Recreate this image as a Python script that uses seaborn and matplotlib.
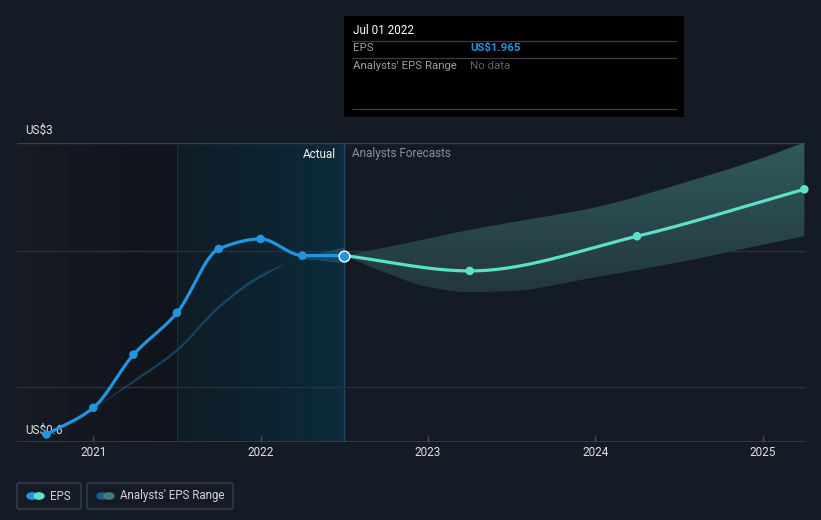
import numpy as np
import pandas as pd
import matplotlib
matplotlib.use("Agg")
import matplotlib.pyplot as plt
from matplotlib.patches import Rectangle, FancyBboxPatch
from matplotlib.colors import LinearSegmentedColormap
import seaborn as sns

# ---------------- data ----------------
eps_dates = [2020.72, 2021.0, 2021.24, 2021.5, 2021.75, 2022.0, 2022.25, 2022.5]
eps_values = [0.66, 0.874, 1.30, 1.635, 2.147, 2.227, 2.094, 2.094]

fc_dates = [2022.5, 2023.25, 2024.25, 2025.25]
fc_values = [2.094, 1.971, 2.249, 2.625]

past_range_dates = [2021.0, 2021.25, 2021.5, 2021.75, 2022.0, 2022.25, 2022.5]
past_range_low = [0.874, 1.09, 1.33, 1.675, 1.92, 2.065, 2.035]
past_range_high = [0.874, 1.11, 1.355, 1.70, 1.945, 2.08, 2.166]

fc_range_dates = [2022.5, 2022.75, 2023.0, 2023.25, 2023.5, 2024.0, 2024.5, 2025.0, 2025.25]
fc_range_low = [2.094, 1.955, 1.843, 1.80, 1.81, 1.92, 2.04, 2.18, 2.25]
fc_range_high = [2.094, 2.16, 2.23, 2.30, 2.36, 2.48, 2.665, 2.876, 3.0]

x_ticks = [2021, 2022, 2023, 2024, 2025]
x_tick_labels = ["2021", "2022", "2023", "2024", "2025"]
y_labels = ["US$3", "US$0.6"]
grid_values = [3.0, 2.13, 1.04]
today = 2022.5
year_ago = 2021.5

# ---------------- helpers ----------------
def pchip(x, y, xs):
    x = np.asarray(x, float); y = np.asarray(y, float)
    h = np.diff(x); d = np.diff(y) / h
    n = len(x); m = np.zeros(n)
    m[0] = d[0]; m[-1] = d[-1]
    for i in range(1, n - 1):
        if d[i - 1] * d[i] <= 0:
            m[i] = 0
        else:
            w1 = 2 * h[i] + h[i - 1]; w2 = h[i] + 2 * h[i - 1]
            m[i] = (w1 + w2) / (w1 / d[i - 1] + w2 / d[i])
    out = np.empty_like(xs, dtype=float)
    for j, xv in enumerate(xs):
        k = np.clip(np.searchsorted(x, xv) - 1, 0, n - 2)
        t = (xv - x[k]) / h[k]
        h00 = 2*t**3 - 3*t**2 + 1; h10 = t**3 - 2*t**2 + t
        h01 = -2*t**3 + 3*t**2; h11 = t**3 - t**2
        out[j] = h00*y[k] + h10*h[k]*m[k] + h01*y[k+1] + h11*h[k]*m[k+1]
    return out

def smooth(x, y, n=300):
    xs = np.linspace(x[0], x[-1], n)
    return xs, pchip(x, y, xs)

# ---------------- figure ----------------
BG = "#151b24"
sns.set_style("dark", {"axes.facecolor": BG, "figure.facecolor": BG})
plt.rcParams['font.family'] = ['Roboto', 'DejaVu Sans']

W, H = 821, 520
fig = plt.figure(figsize=(W / 100, H / 100), dpi=100)
fig.patch.set_facecolor(BG)
ax = fig.add_axes([17 / W, (520 - 442) / H, (805 - 17) / W, (442 - 142.5) / H])
ax.set_facecolor(BG)
XMIN, XMAX = 2020.544, 2025.254
YMIN, YMAX = 0.6, 3.0
ax.set_xlim(XMIN, XMAX)
ax.set_ylim(YMIN, YMAX)

# background regions
grad_l = np.linspace(0, 1, 256).reshape(1, -1)
cm_left = LinearSegmentedColormap.from_list("l", ["#161b24", "#10141b"])
ax.imshow(grad_l, extent=[XMIN, year_ago, YMIN, YMAX], aspect="auto", cmap=cm_left, zorder=0)
cm_mid = LinearSegmentedColormap.from_list("m", ["#0f1c26", "#0b2b3b"])
ax.imshow(grad_l, extent=[year_ago, today, YMIN, YMAX], aspect="auto", cmap=cm_mid, zorder=0)
ax.axvline(year_ago, color="#15303c", lw=0.8, zorder=1)
ax.axvline(today, color="#1b4d63", lw=1.0, zorder=1)

# grid lines
for i, g in enumerate(grid_values):
    ax.axhline(g, color="#3a404a" if i == 0 else "#2a3039", lw=1.0, zorder=1)

# forecast range band with vertical gradient
xs_h, yh = smooth(fc_range_dates, fc_range_high)
xs_l, yl = smooth(fc_range_dates, fc_range_low)
poly = ax.fill_between(xs_h, yl, yh, color="none", lw=0, zorder=2)
grad_v = np.linspace(1, 0, 256).reshape(-1, 1)
cm_band = LinearSegmentedColormap.from_list("b", ["#22363d", "#305a5c"])
im = ax.imshow(grad_v, extent=[today, XMAX, 1.75, 3.0], aspect="auto", cmap=cm_band, zorder=2)
im.set_clip_path(poly.get_paths()[0], transform=ax.transData)

# past range band
xs_ph, pyh = smooth(past_range_dates, past_range_high)
_, pyl = smooth(past_range_dates, past_range_low)
ax.fill_between(xs_ph, pyl, pyh, color="#1f6a99", alpha=0.5, lw=0, zorder=3)

# EPS line
ex, ey = smooth(eps_dates, eps_values, 400)
sns.lineplot(x=ex, y=ey, ax=ax, color="#2394df", lw=2.3, zorder=5, legend=False)
sns.scatterplot(x=eps_dates[:-1], y=eps_values[:-1], ax=ax, color="#2394df", s=38,
                edgecolor="none", zorder=6, legend=False)

# forecast line
fx, fy = smooth(fc_dates, fc_values, 400)
sns.lineplot(x=fx, y=fy, ax=ax, color="#5ce0c8", lw=2.3, zorder=5, legend=False)
sns.scatterplot(x=fc_dates[1:], y=fc_values[1:], ax=ax, color="#5ce0c8", s=38,
                edgecolor="none", zorder=6, legend=False, clip_on=False)

# highlighted current point
ax.scatter([eps_dates[-1]], [eps_values[-1]], s=60, color="#2394df", edgecolor="white",
           linewidth=1.0, zorder=7)

# axes styling
for s in ax.spines.values():
    s.set_visible(False)
ax.axhline(YMIN, color="#3a404a", lw=1.2, zorder=4)
ax.set_xticks(x_ticks)
ax.set_xticklabels(x_tick_labels)
ax.tick_params(axis="x", colors="#4a515c", length=4, width=1, labelcolor="#e0e3e8",
               labelsize=8.5, pad=3, bottom=True, direction="in")
ax.set_yticks([])
ax.grid(False)

# y labels
ax.text(25 / W, (520 - 130) / H, y_labels[0], transform=fig.transFigure, color="#e0e3e8",
        fontsize=8.5, va="center", ha="left")
ax.text(25 / W, (520 - 430) / H, y_labels[1], transform=fig.transFigure, color="#e0e3e8",
        fontsize=8.5, va="center", ha="left", zorder=4)

# Actual / forecasts labels
ax.text(336 / W, (520 - 154) / H, "Actual", transform=fig.transFigure, color="#f0f2f5",
        fontsize=8.5, ha="right", va="center")
ax.text(352 / W, (520 - 154) / H, "Analysts Forecasts", transform=fig.transFigure,
        color="#8a9099", fontsize=8.5, ha="left", va="center")

# tooltip
ft = fig.transFigure
fig.patches.append(Rectangle((344 / W, (520 - 117) / H), 340 / W, 101 / H, transform=ft,
                             facecolor="#000000", edgecolor="none", zorder=10))
def hline(y, x0=352, x1=676, c="#3a3f46"):
    fig.lines.append(plt.Line2D([x0 / W, x1 / W], [(520 - y) / H] * 2, transform=ft,
                                color=c, lw=0.9, zorder=11))
fig.text(353 / W, (520 - 31) / H, "Jul 01 2022", color="#ffffff", fontsize=8.5,
         va="center", zorder=12)
hline(41)
fig.text(353 / W, (520 - 48) / H, "EPS", color="#9aa0a8", fontsize=8.2, va="center", zorder=12)
fig.text(470 / W, (520 - 48) / H, "US$1.965", color="#2394df", fontsize=8.2,
         fontweight="bold", va="center", zorder=12)
hline(58)
fig.text(353 / W, (520 - 66) / H, "Analysts' EPS Range", color="#9aa0a8", fontsize=8.2,
         va="center", zorder=12)
fig.text(470 / W, (520 - 66) / H, "No data", color="#5f646b", fontsize=8.2, va="center",
         zorder=12)
hline(109)

# legend
def legend_box(x0, x1, label, c1, c2):
    fig.patches.append(FancyBboxPatch((x0 / W, (520 - 509) / H), (x1 - x0) / W, 26 / H,
                                      boxstyle="round,pad=0,rounding_size=0.003",
                                      transform=ft, facecolor="none",
                                      edgecolor="#3a404a", lw=1.0))
    cy = (520 - 496) / H
    fig.patches.append(plt.Circle(((x0 + 15) / W, cy), 5 / W, transform=ft, color=c1,
                                  zorder=3))
    fig.patches.append(plt.Circle(((x0 + 22) / W, cy), 5 / W, transform=ft, color=c2,
                                  zorder=4))
    fig.text((x0 + 33) / W, cy, label, color="#d0d4da", fontsize=8.3, va="center")

legend_box(17, 81, "EPS", "#2394df", "#5ce0c8")
legend_box(87, 233, "Analysts' EPS Range", "#245d88", "#3d7f7c")

fig.savefig("out.png", dpi=100, facecolor=BG)
